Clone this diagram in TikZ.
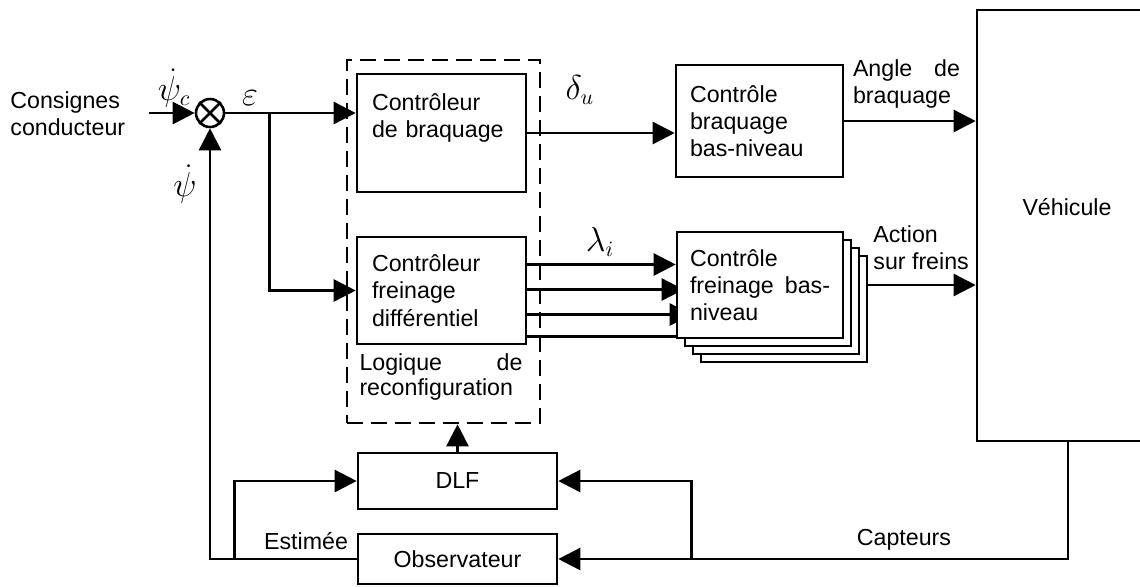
\documentclass[tikz,border=0pt]{standalone}
\usepackage{fontspec}
\setmainfont{Liberation Sans}
\usetikzlibrary{arrows.meta,calc,backgrounds}

\begin{document}
\begin{tikzpicture}[
    x=0.5pt, y=-0.5pt,
    >={Triangle[length=11pt,width=11pt]},
    line cap=butt, line join=miter,
    every node/.style={font=\fontsize{11.6}{13.6}\selectfont},
    wire/.style={line width=1.3pt},
    blk/.style={draw, line width=1.3pt, fill=white, inner ysep=0pt},
    grp/.style={draw, line width=1.3pt, dash pattern=on 8pt off 4pt, inner sep=0pt},
    mlbl/.style={font=\fontsize{16}{18}\selectfont, inner sep=0pt},
]
\useasboundingbox (0,0) rectangle (1140,586);

% ============================================================
% Blocks
% ============================================================
\node[draw, circle, line width=1.3pt, minimum size=14pt, inner sep=0pt] (sum) at (210,113) {};
\draw[wire] (sum.north west) -- (sum.south east) (sum.north east) -- (sum.south west);

\node[grp, minimum width=96.5pt, minimum height=181.5pt] (reconf) at (443.5,241.5) {};
\node[blk, minimum width=84.5pt, minimum height=59pt, text width=69.5pt, inner xsep=7.5pt, align=left]
  (cb) at (441.5,133) {Contrôleur\\de braquage\\\strut};
\node[blk, minimum width=84.5pt, minimum height=53.5pt, text width=69.5pt, inner xsep=7.5pt, align=left]
  (cfd) at (441.5,290.5) {Contrôleur\\freinage\\différentiel};
\node[inner sep=0pt, text width=81.5pt, align=left, font=\fontsize{11.6}{12.2}\selectfont]
  (logic) at (441,377) {Logique\hfill de\\reconfiguration};

\node[blk, minimum width=83.5pt, minimum height=56pt, text width=69.5pt, inner xsep=7pt, align=left]
  (cbb) at (759.5,121) {Contrôle\\braquage\\bas-niveau};

% stacked low-level brake blocks, back to front
\node[blk, minimum width=83pt, minimum height=53pt] (cfbC) at (784,309) {};
\node[blk, minimum width=83pt, minimum height=53pt] (cfbB) at (776,301) {};
\node[blk, minimum width=83pt, minimum height=53pt] (cfbA) at (768,293) {};
\node[blk, minimum width=83pt, minimum height=53pt, text width=70pt, inner xsep=6.5pt, align=left]
  (cfb) at (760,285) {Contrôle\\freinage\hfill bas-\\niveau};

\node[blk, minimum width=91pt, minimum height=215.5pt] (veh) at (1068,225.5) {};
\node (vehtxt) at (1067,207) {Véhicule};

\node[blk, minimum width=99.5pt, minimum height=28pt] (dlf) at (457.5,481) {DLF};
\node[blk, minimum width=99.5pt, minimum height=25pt] (obs) at (457.5,559) {Observateur};

% ============================================================
% Labels
% ============================================================
\node[anchor=west, align=left, inner sep=0pt] (cons) at (10,114) {Consignes\\conducteur};
\node[mlbl] (lpsic) at (174,88) {$\dot{\psi}_c$};
\node[mlbl] (leps) at (250,98) {$\varepsilon$};
\node[mlbl] (lpsi) at (185,184) {$\dot{\psi}$};
\node[mlbl] (ldelta) at (580,90) {$\delta_u$};
\node[mlbl] (llambda) at (600,242) {$\lambda_i$};
\node[inner sep=0pt, text width=53.5pt, align=left] (langle) at (906.5,84) {Angle\hfill de\\braquage};
\node[anchor=west, inner sep=0pt, align=left] (laction) at (873,248) {Action\\sur freins};
\node[inner sep=0pt] (lest) at (306,541) {Estimée};
\node[inner sep=0pt] (lcapt) at (904,540) {Capteurs};

% ============================================================
% Connectors
% ============================================================
\path (sum.west) ++(-46,0) coordinate (in);
\path (sum.east) ++(44,0)  coordinate (br);
\path (obs.west) ++(-122,0) coordinate (est);
\path (obs.east) ++(133,0) coordinate (sens);

\draw[wire,->] (in) -- (sum.west);
\draw[wire,->] (sum.east) -- (cb.west |- sum.east);
\draw[wire,->] (br) |- (cfd.west);
\draw[wire,->] (cb.east) -- (cbb.west |- cb.east);
\draw[wire,->] (cbb.east) -- (veh.west |- cbb.east);
\draw[wire,->] (cfbC.east |- cfb.east) -- (veh.west |- cfb.east);

% brake commands, partly hidden behind the stack
\begin{pgfonlayer}{background}
\foreach \dy/\tgt in {-26/cfb, -1/cfbA, 24/cfbB}
  \draw[wire,->] ($(cfd.east)+(0,\dy)$) -- ($(\tgt.west |- cfd.east)+(0,\dy)$);
\draw[wire] ($(cfd.east)+(0,46)$) -- ($(cfb.west |- cfd.east)+(0,46)$);
\end{pgfonlayer}

% feedback paths
\draw[wire,->] (obs.west) -| (sum.south);
\draw[wire,->] (est) |- (dlf.west);
\draw[wire,->] (dlf.north) -- (dlf.north |- reconf.south);
\draw[wire,->] (veh.south) |- (obs.east);
\draw[wire,->] (sens) |- (dlf.east);

\end{tikzpicture}
\end{document}
